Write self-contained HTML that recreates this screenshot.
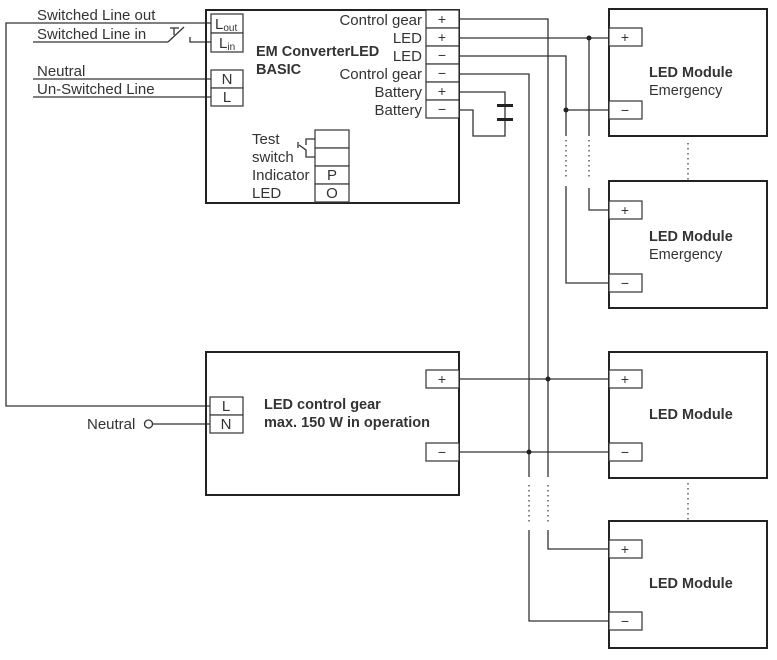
<!DOCTYPE html>
<html><head><meta charset="utf-8"><style>
body{margin:0;background:#fff}
svg text{font-family:"Liberation Sans",sans-serif;fill:#333}
</style></head><body>
<svg width="777" height="655" viewBox="0 0 777 655" xmlns="http://www.w3.org/2000/svg">
<g fill="none" stroke="#333" stroke-width="1.3">
<polyline points="211,23 6,23 6,406 211,406"/>
<line x1="33" y1="42" x2="168" y2="42"/>
<line x1="168" y1="42" x2="184" y2="27"/>
<polyline points="174,35 174,28"/><line x1="170" y1="28" x2="179" y2="28"/>
<polyline points="190,37 190,42 211,42"/>
<line x1="33" y1="79" x2="211" y2="79"/>
<line x1="33" y1="97" x2="211" y2="97"/>
<line x1="153" y1="424" x2="211" y2="424"/>
<circle cx="148.5" cy="424" r="4" fill="#fff"/>
<polyline points="459,19 548,19 548,477"/>
<polyline points="459,74 529,74 529,477"/>
<polyline points="459,38 609,38"/>
<polyline points="459,56 566,56 566,136"/>
<line x1="589" y1="38" x2="589" y2="136"/>
<line x1="566" y1="110" x2="609" y2="110"/>
<polyline points="589,188 589,210 609,210"/>
<polyline points="566,186 566,283 609,283"/>
<polyline points="459,92 505,92 505,106"/>
<polyline points="459,110 473,110 473,136 505,136 505,120"/>
<line x1="505" y1="106" x2="505" y2="120"/>
<line x1="459" y1="379" x2="609" y2="379"/>
<line x1="459" y1="452" x2="609" y2="452"/>
<polyline points="548,530 548,549 609,549"/>
<polyline points="529,530 529,621 609,621"/>
<polyline points="315,139 306,139 306,145"/>
<polyline points="315,157 306,157 306,150 299,145"/>
<line x1="298" y1="142" x2="298" y2="148"/>
</g>
<g stroke="#333" stroke-width="1.2" stroke-dasharray="1.5,3.5" fill="none">
<line x1="566" y1="140" x2="566" y2="180"/>
<line x1="589" y1="140" x2="589" y2="180"/>
<line x1="688" y1="143" x2="688" y2="180"/>
<line x1="529" y1="485" x2="529" y2="525"/>
<line x1="548" y1="485" x2="548" y2="525"/>
<line x1="688" y1="483" x2="688" y2="520"/>
</g>
<g fill="#222">
<rect x="497" y="104" width="16" height="3"/><rect x="497" y="118" width="16" height="3"/>
<circle cx="589" cy="38" r="2.5"/><circle cx="566" cy="110" r="2.5"/>
<circle cx="548" cy="379" r="2.5"/><circle cx="529" cy="452" r="2.5"/>
</g>
<g fill="none" stroke="#222" stroke-width="2">
<rect x="206" y="10" width="253" height="193"/>
<rect x="206" y="352" width="253" height="143"/>
<rect x="609" y="9" width="158" height="127"/>
<rect x="609" y="181" width="158" height="127"/>
<rect x="609" y="352" width="158" height="126"/>
<rect x="609" y="521" width="158" height="127"/>
</g>
<g fill="#fff" stroke="#333" stroke-width="1.2">
<rect x="211" y="14" width="32" height="19"/><rect x="211" y="33" width="32" height="19"/>
<rect x="211" y="70" width="32" height="18"/><rect x="211" y="88" width="32" height="18"/>
<rect x="426" y="10" width="33" height="18"/><rect x="426" y="28" width="33" height="18"/><rect x="426" y="46" width="33" height="18"/>
<rect x="426" y="64" width="33" height="18"/><rect x="426" y="82" width="33" height="18"/><rect x="426" y="100" width="33" height="18"/>
<rect x="315" y="130" width="34" height="18"/><rect x="315" y="148" width="34" height="18"/>
<rect x="315" y="166" width="34" height="18"/><rect x="315" y="184" width="34" height="18"/>
<rect x="210" y="397" width="33" height="18"/><rect x="210" y="415" width="33" height="18"/>
<rect x="426" y="370" width="33" height="18"/><rect x="426" y="443" width="33" height="18"/>
<rect x="609" y="28" width="33" height="18"/><rect x="609" y="101" width="33" height="18"/>
<rect x="609" y="201" width="33" height="18"/><rect x="609" y="274" width="33" height="18"/>
<rect x="609" y="370" width="33" height="18"/><rect x="609" y="443" width="33" height="18"/>
<rect x="609" y="540" width="33" height="18"/><rect x="609" y="612" width="33" height="18"/>
</g>
<g font-size="15">
<text x="37" y="20">Switched Line out</text>
<text x="37" y="39">Switched Line in</text>
<text x="37" y="76">Neutral</text>
<text x="37" y="94">Un-Switched Line</text>
<text x="87" y="429">Neutral</text>
<text x="215" y="29">L<tspan font-size="10" dy="2">out</tspan></text>
<text x="219" y="48">L<tspan font-size="10" dy="2">in</tspan></text>
<text x="227" y="84" text-anchor="middle">N</text>
<text x="227" y="102" text-anchor="middle">L</text>
<text x="226" y="411" text-anchor="middle">L</text>
<text x="226" y="429" text-anchor="middle">N</text>
<g text-anchor="end">
<text x="422" y="25">Control gear</text><text x="422" y="43">LED</text><text x="422" y="61">LED</text>
<text x="422" y="79">Control gear</text><text x="422" y="97">Battery</text><text x="422" y="115">Battery</text>
</g>
<text x="252" y="144">Test</text><text x="252" y="162">switch</text>
<text x="252" y="180">Indicator</text><text x="252" y="198">LED</text>
<text x="332" y="180" text-anchor="middle">P</text><text x="332" y="198" text-anchor="middle">O</text>
</g>
<g font-size="14" text-anchor="middle">
<text x="442" y="24">+</text><text x="442" y="42">+</text><text x="442" y="60">−</text>
<text x="442" y="78">−</text><text x="442" y="96">+</text><text x="442" y="114">−</text>
<text x="442" y="384">+</text><text x="442" y="457">−</text>
<text x="625" y="42">+</text><text x="625" y="115">−</text>
<text x="625" y="215">+</text><text x="625" y="288">−</text>
<text x="625" y="384">+</text><text x="625" y="457">−</text>
<text x="625" y="554">+</text><text x="625" y="626">−</text>
</g>
<g font-size="14.5" font-weight="bold">
<text x="256" y="56">EM ConverterLED</text><text x="256" y="74">BASIC</text>
<text x="264" y="409">LED control gear</text><text x="264" y="427">max. 150 W in operation</text>
<text x="649" y="77">LED Module</text>
<text x="649" y="241">LED Module</text>
<text x="649" y="419">LED Module</text>
<text x="649" y="588">LED Module</text>
</g>
<g font-size="14.5"><text x="649" y="95">Emergency</text><text x="649" y="259">Emergency</text></g>
</svg>
</body></html>
